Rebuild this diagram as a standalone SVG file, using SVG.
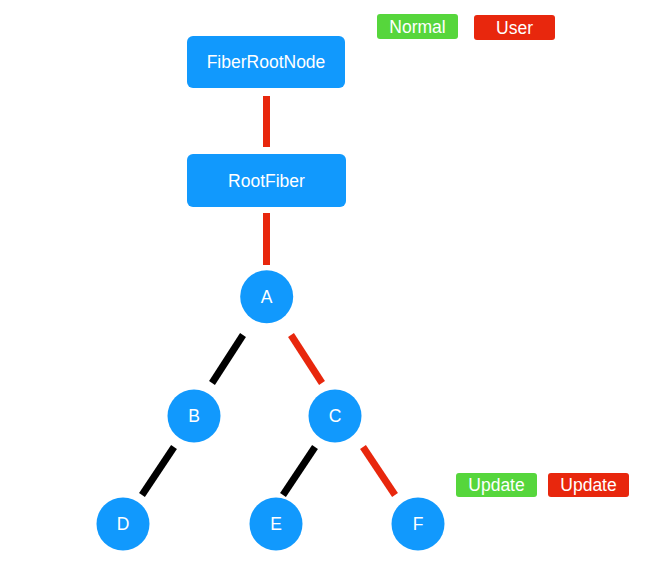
<svg xmlns="http://www.w3.org/2000/svg" width="670" height="567" viewBox="0 0 670 567">
<style>
.box{fill:#1199fd}
.node{fill:#1199fd}
.t{font-family:"Liberation Sans",Arial,sans-serif;font-size:17.5px;fill:#fff;text-anchor:middle;dominant-baseline:central}
.red{stroke:#e8270d;stroke-width:7;fill:none}
.blk{stroke:#000;stroke-width:7;fill:none}
.g{fill:#56d63c}
.r{fill:#e8270d}
</style>
<rect width="670" height="567" fill="#fff"/>
<g id="connectors">
<line class="red" x1="266.5" y1="96" x2="266.5" y2="147"/>
<line class="red" x1="266.5" y1="213" x2="266.5" y2="265"/>
<line class="blk" x1="243" y1="335" x2="212" y2="383"/>
<line class="red" x1="291" y1="335" x2="322" y2="383"/>
<line class="blk" x1="174" y1="447" x2="142" y2="495"/>
<line class="blk" x1="315" y1="447" x2="283" y2="495"/>
<line class="red" x1="363" y1="447" x2="395" y2="495"/>
</g>
<g id="legend-normal"><rect class="g" x="377" y="14" width="81" height="25" rx="3"/><text class="t" x="417.5" y="27">Normal</text></g>
<g id="legend-user"><rect class="r" x="474" y="15" width="81" height="25" rx="3"/><text class="t" x="514.5" y="28">User</text></g>
<g id="FiberRootNode"><rect class="box" x="187" y="36" width="158" height="52" rx="6"/><text class="t" x="266" y="62">FiberRootNode</text></g>
<g id="RootFiber"><rect class="box" x="187" y="154" width="159" height="53" rx="6"/><text class="t" x="266.5" y="181">RootFiber</text></g>
<g id="A"><circle class="node" cx="266.7" cy="296.7" r="26.5"/><text class="t" x="266.7" y="296.7">A</text></g>
<g id="B"><circle class="node" cx="194" cy="416" r="26.5"/><text class="t" x="194" y="416">B</text></g>
<g id="C"><circle class="node" cx="335" cy="416" r="26.5"/><text class="t" x="335" y="416">C</text></g>
<g id="D"><circle class="node" cx="123" cy="524" r="26.5"/><text class="t" x="123" y="524">D</text></g>
<g id="E"><circle class="node" cx="276" cy="524" r="26.5"/><text class="t" x="276" y="524">E</text></g>
<g id="F"><circle class="node" cx="418" cy="524" r="26.5"/><text class="t" x="418" y="524">F</text></g>
<g id="update-green"><rect class="g" x="456" y="473" width="81" height="24" rx="3"/><text class="t" x="496.5" y="485">Update</text></g>
<g id="update-red"><rect class="r" x="548" y="473" width="81" height="24" rx="3"/><text class="t" x="588.5" y="485">Update</text></g>
</svg>
